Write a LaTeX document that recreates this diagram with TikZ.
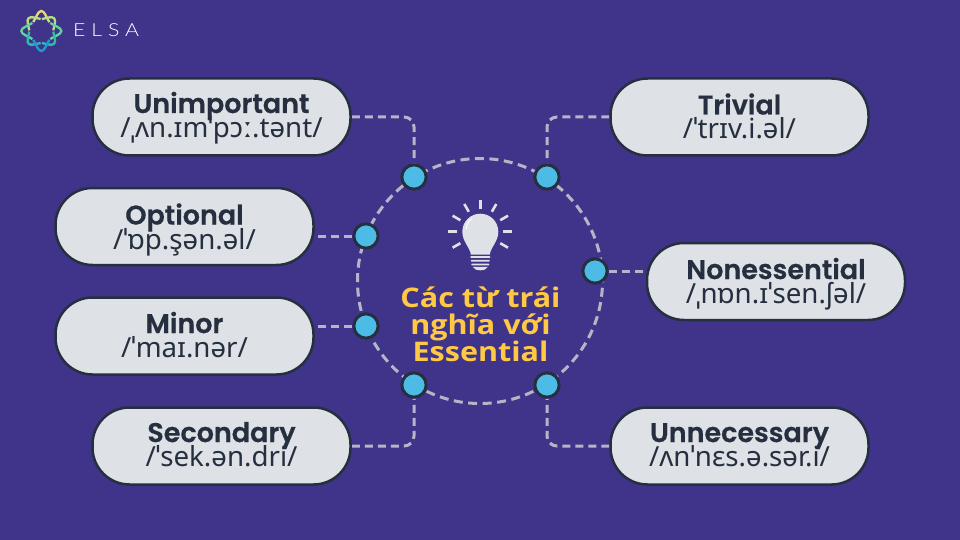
\documentclass[tikz,border=0pt]{standalone}
\usepackage{fontspec}
\usetikzlibrary{backgrounds}
\setmainfont{Noto Sans}
\newfontfamily\labfont[FakeBold=0.5]{Poppins SemiBold}
\newfontfamily\ipafont{Noto Sans}
\newfontfamily\titlefont[FakeStretch=1.13]{Open Sans Bold}
\newfontfamily\elsafont[LetterSpace=33,FakeStretch=1.18]{Lato Light}
\definecolor{bg}{HTML}{3F348A}
\definecolor{ink}{HTML}{252F3F}
\definecolor{pillfill}{HTML}{DEE1E5}
\definecolor{dashcol}{HTML}{B3B6C6}
\definecolor{dotfill}{HTML}{4CBCE6}
\definecolor{gold}{HTML}{FFC845}
\tikzset{
  pill/.style={draw=ink,line width=2.5pt,fill=pillfill,rounded corners=37pt,minimum width=258pt,minimum height=77pt,inner sep=0pt,align=center,text=ink},
  dot/.style={circle,draw=ink,line width=3pt,fill=dotfill,minimum size=24.3pt,inner sep=0pt},
  link/.style={draw=dashcol,line width=3pt,dash pattern=on 8pt off 5pt},
  ray/.style={draw=pillfill,line width=2.6pt},
  petal/.style={line width=2.3pt,fill=none}
}
\newcommand{\pilltext}[3][0pt]{\hbox to 0pt{\hss\raisebox{\dimexpr4pt-#1\relax}[0pt][0pt]{\fontsize{27}{27}\labfont #2}\hss}\hbox to 0pt{\hss\raisebox{\dimexpr-20.5pt-#1\relax}[0pt][0pt]{\fontsize{27.7}{27.7}\ipafont #3}\hss}}
\begin{document}
\begin{tikzpicture}[x=1pt,y=-1pt]
\useasboundingbox (0,0) rectangle (960,540);
% pills
\node[pill] (unimp) at (221.5,117) {\pilltext{Unimportant}{/ˌʌn.ɪmˈpɔː.tənt/}};
\node[pill] (opt) at (184.5,226.5) {\pilltext[2pt]{Optional}{/ˈɒp.şən.əl/}};
\node[pill] (minor) at (184.5,336) {\pilltext[1pt]{Minor}{/ˈmaɪ.nər/}};
\node[pill] (second) at (221.5,446) {\pilltext{Secondary}{/ˈsek.ən.dri/}};
\node[pill] (trivial) at (739.5,117) {\pilltext[1.5pt]{Trivial}{/ˈtrɪv.i.əl/}};
\node[pill] (nones) at (776,281.5) {\pilltext[1.5pt]{Nonessential}{/ˌnɒn.ɪˈsen.ʃəl/}};
\node[pill] (unnec) at (739.5,446) {\pilltext{Unnecessary}{/ʌnˈnɛs.ə.sər.i/}};
% dots
\node[dot] (d1) at (414,177) {};
\node[dot] (d2) at (366,236) {};
\node[dot] (d3) at (366,326) {};
\node[dot] (d4) at (414,385) {};
\node[dot] (d5) at (547,177) {};
\node[dot] (d6) at (595,271) {};
\node[dot] (d7) at (547,385) {};
\begin{scope}[on background layer]
  \fill[bg] (0,0) rectangle (960,540);
  \node[circle,minimum size=245pt,inner sep=0pt,link,dash pattern=on 9pt off 5.5pt] (hub) at (480,281) {};
  \draw[link,rounded corners=10pt] (unimp.east) -| (d1);
  \draw[link] (d2) -- (d2 -| opt.east);
  \draw[link] (d3) -- (d3 -| minor.east);
  \draw[link,rounded corners=10pt] (second.east) -| (d4);
  \draw[link,rounded corners=10pt] (trivial.west) -| (d5);
  \draw[link] (d6) -- (d6 -| nones.west);
  \draw[link,rounded corners=10pt] (unnec.west) -| (d7);
\end{scope}
% title
\node[text=gold,align=center,inner sep=0pt,font=\titlefont\fontsize{27}{27.2}\selectfont] (title) at (480.5,324) {Các từ trái\\nghĩa với\\Essential};
% bulb
\begin{scope}[shift={(480.3,231.7)}]
  \foreach \a in {-30,0,30,60,90,120,150,180,210}
    \draw[ray] (\a:23pt) -- (\a:32pt);
  \fill[pillfill] (-9.5,23) .. controls (-10,16) and (-18,10) .. (-18,0) .. controls (-18,-10) and (-10,-18) .. (0,-18) .. controls (10,-18) and (18,-10) .. (18,0) .. controls (18,10) and (10,16) .. (9.5,23) -- cycle;
  \draw[white,line width=1pt,line cap=round] (-14,-3) .. controls (-14,-8) and (-11,-12) .. (-8,-13);
  \fill[pillfill,rounded corners=0.7pt] (-10,24.5) rectangle (10,26.2);
  \fill[pillfill,rounded corners=0.7pt] (-9.5,28.2) rectangle (9.5,29.9);
  \fill[pillfill,rounded corners=0.7pt] (-9,32) rectangle (9,33.7);
  \fill[pillfill] (-7.5,35.2) -- (7.5,35.2) .. controls (6,37.5) and (4,38.6) .. (0,38.6) .. controls (-4,38.6) and (-6,37.5) .. (-7.5,35.2) -- cycle;
\end{scope}
% logo
\begin{scope}[shift={(41.3,31)}]
  \foreach \a/\r/\c in {90/20/E3D980,45/18/B7DD82,135/18/B7DD82,0/20/62D59A,180/20/62D59A,-45/18/35B8B0,225/18/35B8B0,-90/20/1E9AD2}{
    \definecolor{pc}{HTML}{\c}
    \draw[petal,draw=pc] (\a-42:12pt) .. controls (\a-18:15pt) and (\a-10:\r pt) .. (\a:\r pt) .. controls (\a+10:\r pt) and (\a+18:15pt) .. (\a+42:12pt);
  }
\end{scope}
\node[text=white,inner sep=0pt,anchor=base west,font=\elsafont\fontsize{18}{18}\selectfont] (elsa) at (73,37) {ELSA};
\end{tikzpicture}
\end{document}
